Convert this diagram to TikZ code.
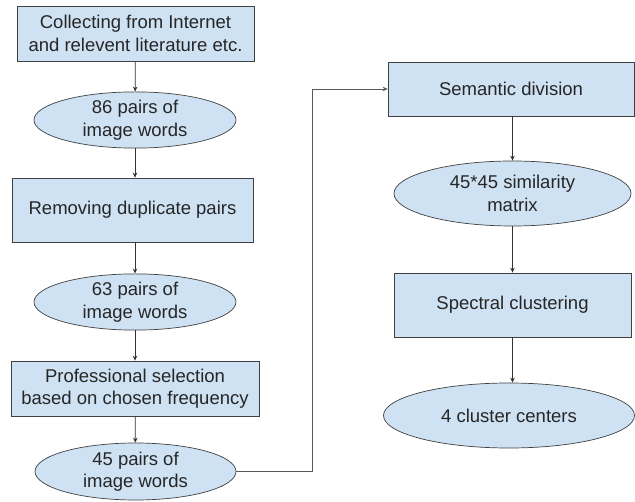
\documentclass[tikz,border=0pt]{standalone}
\usepackage{fontspec}
\setmainfont{Liberation Sans}
\usetikzlibrary{shapes.geometric,arrows.meta}
\definecolor{stepfill}{HTML}{CFE2F3}
\definecolor{edgegray}{HTML}{404040}
\begin{document}
\begin{tikzpicture}[x=1pt,y=-1pt,
  base/.style={draw=edgegray, line width=0.7pt, fill=stepfill, inner sep=0pt, align=center,
    font=\fontsize{18.5}{22.5}\selectfont, text=black!85},
  stepbox/.style={base, rectangle},
  stepoval/.style={base, ellipse},
  flow/.style={draw=black!80, line width=0.7pt, -{Stealth[length=5pt,width=4.5pt]}}]
\useasboundingbox (0,0) rectangle (635,502);
% left column
\node[stepbox, minimum width=237pt, minimum height=55pt] (collect) at (135.5,33.5)
  {Collecting from Internet\\and relevent literature etc.};
\node[stepoval, minimum width=202pt, minimum height=56pt] (p86) at (135,120)
  {86 pairs of\\image words};
\node[stepbox, minimum width=241pt, minimum height=64pt] (dedup) at (132.5,210)
  {Removing duplicate pairs};
\node[stepoval, minimum width=202pt, minimum height=56pt] (p63) at (135,302)
  {63 pairs of\\image words};
\node[stepbox, minimum width=248pt, minimum height=55pt] (select) at (135,388.5)
  {Professional selection\\based on chosen frequency};
\node[stepoval, minimum width=201pt, minimum height=57pt] (p45) at (135.5,471.5)
  {45 pairs of\\image words};
% right column
\node[stepbox, minimum width=246pt, minimum height=54pt] (sem) at (511,89)
  {Semantic division};
\node[stepoval, minimum width=237pt, minimum height=65pt] (sim) at (512.5,193.5)
  {45*45 similarity\\matrix};
\node[stepbox, minimum width=237pt, minimum height=64pt] (spec) at (512.5,305)
  {Spectral clustering};
\node[stepoval, minimum width=251pt, minimum height=65pt] (centers) at (509,415.5)
  {4 cluster centers};
% connectors
\coordinate (bend) at (312,89);
\draw[flow] (collect) -- (p86);
\draw[flow] (p86) -- (p86 |- dedup.north);
\draw[flow] (p63 |- dedup.south) -- (p63);
\draw[flow] (p63) -- (p63 |- select.north);
\draw[flow] (select) -- (p45);
\draw[flow, draw=black!65] (p45.east) -| (bend) -- (sem.west);
\draw[flow] (sim |- sem.south) -- (sim);
\draw[flow] (sim) -- (spec.north -| sim);
\draw[flow] (spec.south -| sim) -- (centers.north -| sim);
\end{tikzpicture}
\end{document}
